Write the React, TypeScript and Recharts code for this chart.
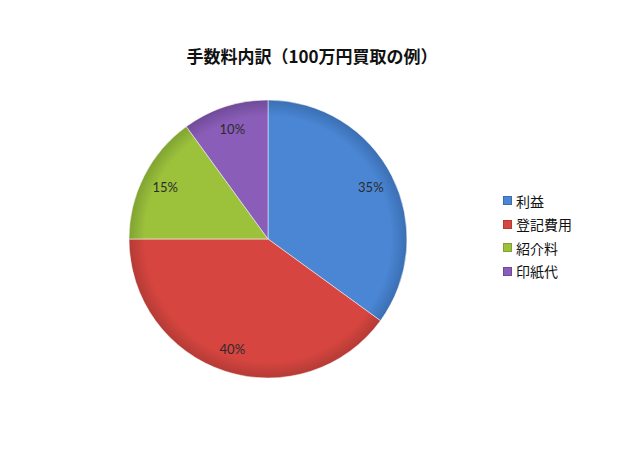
import React from "react";
import { PieChart, Pie, Cell, Legend } from "recharts";

const categories = ["利益", "登記費用", "紹介料", "印紙代"];
const shares = [35, 40, 15, 10];
const colors = ["#4a86d4", "#d6453f", "#9cc23c", "#8a5db8"];
const edgeColors = ["#3a6db0", "#b23a35", "#7fa032", "#6e4a96"];
const title = "手数料内訳（100万円買取の例）";

const data = categories.map((name, i) => ({ name, value: shares[i] }));

const RADIAN = Math.PI / 180;

const renderLabel = (props: any) => {
  const { cx, cy, midAngle, outerRadius, value } = props;
  const r = outerRadius * 0.83;
  const x = cx + r * Math.cos(-midAngle * RADIAN);
  const y = cy + r * Math.sin(-midAngle * RADIAN);
  return (
    <text
      x={x}
      y={y}
      fill="#2b2b2b"
      fontSize={13}
      fontFamily="Lato, 'Noto Sans', sans-serif"
      textAnchor="middle"
      dominantBaseline="central"
    >
      {value}%
    </text>
  );
};

// keep the legend in data order (recharts sorts the payload otherwise)
const renderLegend = () => (
  <div style={{ fontFamily: "'Noto Sans CJK JP', sans-serif", fontSize: 14, color: "#111" }}>
    {categories.map((name, i) => (
      <div key={name} style={{ display: "flex", alignItems: "center", height: 23.5 }}>
        <span
          style={{
            display: "inline-block",
            width: 7,
            height: 7,
            background: colors[i],
            border: "1px solid " + edgeColors[i],
            marginRight: 4,
          }}
        />
        {name}
      </div>
    ))}
  </div>
);

export default function App() {
  return (
    <div style={{ position: "absolute", left: 0, top: 0, width: 620, height: 465, background: "#fff" }}>
      <div
        style={{
          position: "absolute",
          left: 0,
          width: 620,
          top: 43,
          textAlign: "center",
          fontFamily: "'Noto Sans CJK JP', sans-serif",
          fontWeight: "bold",
          fontSize: 17,
          color: "#111",
          paddingLeft: 2,
        }}
      >
        {title}
      </div>
      <PieChart width={620} height={465} margin={{ top: 0, right: 0, bottom: 0, left: 0 }}>
        <defs>
          {colors.map((c, i) => (
            <radialGradient
              key={i}
              id={"grad" + i}
              gradientUnits="userSpaceOnUse"
              cx={268}
              cy={239}
              r={140}
            >
              <stop offset="0%" stopColor={c} />
              <stop offset="88%" stopColor={c} />
              <stop offset="100%" stopColor={edgeColors[i]} />
            </radialGradient>
          ))}
        </defs>
        <Pie
          data={data}
          dataKey="value"
          nameKey="name"
          cx={268}
          cy={239}
          outerRadius={139}
          startAngle={90}
          endAngle={-270}
          label={renderLabel}
          labelLine={false}
          isAnimationActive={false}
          stroke="#ffffff"
          strokeWidth={0.5}
        >
          {data.map((d, i) => (
            <Cell key={d.name} fill={`url(#grad${i})`} />
          ))}
        </Pie>
        <Legend
          layout="vertical"
          align="right"
          verticalAlign="top"
          content={renderLegend}
          wrapperStyle={{ position: "absolute", left: 503, top: 189, width: 110 }}
        />
      </PieChart>
    </div>
  );
}
